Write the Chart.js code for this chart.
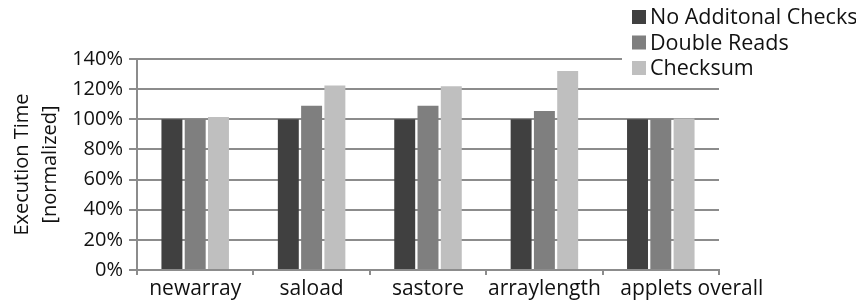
<!DOCTYPE html>
<html>
<head>
<meta charset="utf-8">
<script src="https://cdn.jsdelivr.net/npm/chart.js@4.4.1/dist/chart.umd.min.js"></script>
<style>
  html, body { margin: 0; padding: 0; background: #fff; }
  #wrap { width: 856px; height: 301px; position: relative; }
</style>
</head>
<body>
<div id="wrap"><canvas id="chart" width="856" height="301"></canvas></div>
<script>
// categories + series (execution time, % of baseline)
const categories = ['newarray', 'saload', 'sastore', 'arraylength', 'applets overall'];
const seriesNames = ['No Additonal Checks', 'Double Reads', 'Checksum'];
const noChecks = [100, 100, 100, 100, 100];
const doubleReads = [100, 109, 109, 105.5, 100];
const checksum = [101.5, 122.5, 122, 132, 100.5];
const yTicks = [0, 20, 40, 60, 80, 100, 120, 140];
const yTitle = ['Execution Time', '[normalized]'];

const FONT = 'Open Sans';
const GRID = '#8c8c8c';
const colors = ['#404040', '#7f7f7f', '#bfbfbf'];

// legend drawn in the top-right corner, over the chart area like the original
const cornerLegend = {
  id: 'cornerLegend',
  afterDraw(chart) {
    const ctx = chart.ctx;
    ctx.save();
    ctx.fillStyle = '#fff';
    ctx.fillRect(622, 0, 234, 81);
    ctx.font = `21.5px "${FONT}"`;
    ctx.textBaseline = 'middle';
    chart.data.datasets.forEach((ds, i) => {
      const cy = 17 + i * 25.5;
      ctx.fillStyle = ds.backgroundColor;
      ctx.fillRect(632, cy - 7, 14, 14);
      ctx.fillStyle = '#111';
      ctx.fillText(ds.label, 650, cy + 1);
    });
    ctx.restore();
  }
};

// the last category label sits pushed to the right, clear of "arraylength"
const nudgeLastLabel = {
  id: 'nudgeLastLabel',
  beforeDraw(chart) {
    const x = chart.scales.x;
    const items = x.getLabelItems();
    const last = items[items.length - 1];
    if (last && !last._nudged) {
      last.options.translation[0] += 31;
      last._nudged = true;
    }
  }
};

new Chart(document.getElementById('chart'), {
  type: 'bar',
  data: {
    labels: categories,
    datasets: [noChecks, doubleReads, checksum].map((d, i) => ({
      label: seriesNames[i],
      data: d,
      backgroundColor: colors[i],
      borderWidth: 0,
      barPercentage: 0.9,
      categoryPercentage: 0.6
    }))
  },
  options: {
    responsive: false,
    animation: false,
    layout: { padding: { left: 0, right: 137, top: 59, bottom: 0 } },
    plugins: {
      legend: { display: false },
      tooltip: { enabled: false }
    },
    scales: {
      x: {
        afterFit: s => { s.height = 31; },
        grid: { display: true, drawOnChartArea: false, drawTicks: true, offset: true, tickLength: 5, color: GRID, lineWidth: 2 },
        border: { display: true, color: GRID, width: 2 },
        ticks: {
          color: '#111',
          padding: 1,
          maxRotation: 0,
          minRotation: 0,
          autoSkip: false,
          font: { family: FONT, size: 21 }
        }
      },
      y: {
        min: 0,
        max: 140,
        afterFit: s => { s.width = 137; },
        afterBuildTicks: s => { s.ticks = yTicks.map(v => ({ value: v })); },
        grid: { color: GRID, lineWidth: 2, tickLength: 8 },
        border: { display: true, color: GRID, width: 2 },
        ticks: {
          color: '#111',
          padding: 6,
          font: { family: FONT, size: 20 },
          callback: v => v + '%'
        },
        title: {
          display: true,
          text: yTitle,
          color: '#111',
          padding: { top: 8, bottom: 0 },
          font: { family: FONT, size: 20, lineHeight: 1.4 }
        }
      }
    }
  },
  plugins: [cornerLegend, nudgeLastLabel]
});
</script>
</body>
</html>
